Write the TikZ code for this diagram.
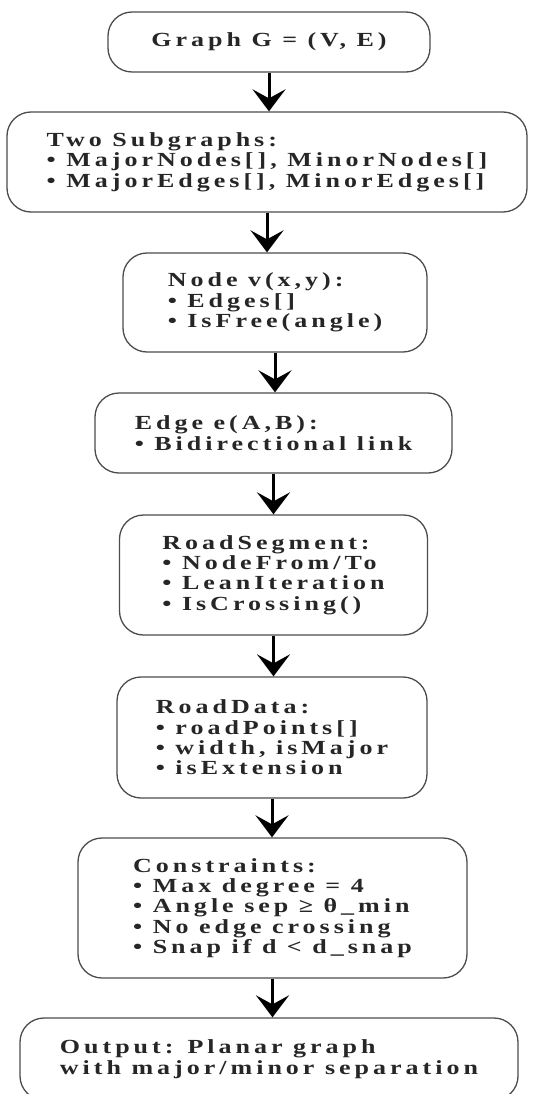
\documentclass[tikz,border=0pt]{standalone}
\usepackage{fontspec}
\setmainfont{Liberation Serif}[FakeStretch=1.3, LetterSpace=20]
\usetikzlibrary{arrows.meta}
\begin{document}
\begin{tikzpicture}[x=1pt,y=-1pt,
  box/.style={draw=black!70, line width=1.3pt, rounded corners=24pt, align=left,
    inner sep=0pt, font=\fontsize{20}{20.4}\selectfont\bfseries, text=black!85},
  arr/.style={line width=3pt, -{Stealth[length=22pt,width=33pt,inset=9pt]}}]
\useasboundingbox (0,0) rectangle (535,1094);
\node[box, minimum width=322pt, minimum height=60pt] (b1) at (269,42) {Graph G = (V, E)};
\node[box, minimum width=520pt, minimum height=100pt] (b2) at (267,162)
  {Two Subgraphs:\\• MajorNodes[], MinorNodes[]\\• MajorEdges[], MinorEdges[]};
\node[box, minimum width=304pt, minimum height=99pt] (b3) at (275,302.5)
  {Node v(x,y):\\• Edges[]\\• IsFree(angle)};
\node[box, minimum width=357pt, minimum height=80pt] (b4) at (273.5,433)
  {Edge e(A,B):\\• Bidirectional link};
\node[box, minimum width=308pt, minimum height=120pt] (b5) at (273.5,575)
  {RoadSegment:\\• NodeFrom/To\\• LeanIteration\\• IsCrossing()};
\node[box, minimum width=310pt, minimum height=121pt] (b6) at (272,737.5)
  {RoadData:\\• roadPoints[]\\• width, isMajor\\• isExtension};
\node[box, minimum width=389pt, minimum height=140pt] (b7) at (272.5,908)
  {Constraints:\\• Max degree = 4\\• Angle sep ≥ θ\_min\\• No edge crossing\\• Snap if d < d\_snap};
\node[box, minimum width=498pt, minimum height=82pt] (b8) at (269,1059)
  {Output: Planar graph\\with major/minor separation};
\draw[arr] (b1.south) -- (b1.south |- b2.north);
\draw[arr] (b2.south) -- (b2.south |- b3.north);
\draw[arr] (b3.south) -- (b3.south |- b4.north);
\draw[arr] (b4.south) -- (b4.south |- b5.north);
\draw[arr] (b5.south) -- (b5.south |- b6.north);
\draw[arr] (b6.south) -- (b6.south |- b7.north);
\draw[arr] (b7.south) -- (b7.south |- b8.north);
\end{tikzpicture}
\end{document}
